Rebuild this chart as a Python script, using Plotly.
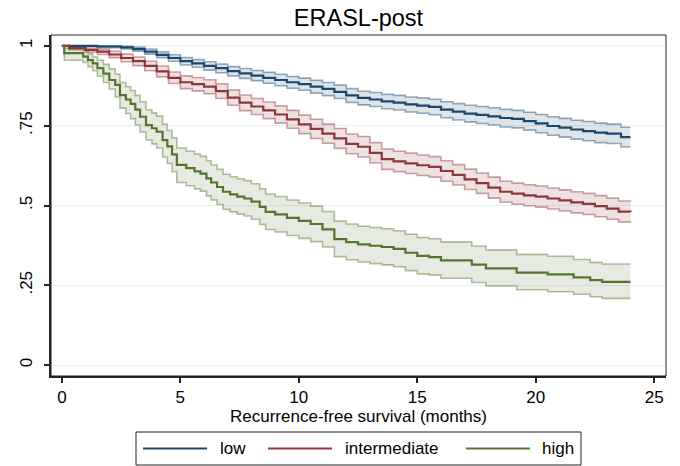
import plotly.graph_objects as go

# ---------------- data ----------------
groups = ["low", "intermediate", "high"]

low_t = [0, 1.5, 2.5, 3.0, 3.5, 4.0, 4.5, 5.0, 5.5, 6.0, 6.5, 7.0, 7.5, 8.0, 8.5, 9.0, 9.5, 10.0,
         10.5, 11.0, 11.5, 12.0, 12.5, 13.0, 13.5, 14.0, 14.5, 15.0, 15.5, 16.0, 16.5, 17.0, 17.5,
         18.0, 18.5, 19.0, 19.5, 20.0, 20.5, 21.0, 21.5, 22.0, 22.5, 23.0, 23.6, 24.0]
low_s = [1.0, 0.998, 0.995, 0.990, 0.982, 0.972, 0.962, 0.952, 0.945, 0.937, 0.930, 0.921, 0.914,
         0.907, 0.900, 0.893, 0.886, 0.880, 0.872, 0.865, 0.856, 0.845, 0.837, 0.832, 0.826, 0.822,
         0.817, 0.813, 0.809, 0.800, 0.794, 0.788, 0.784, 0.779, 0.774, 0.771, 0.764, 0.757, 0.749,
         0.744, 0.738, 0.733, 0.728, 0.725, 0.714, 0.714]
low_hi = [1.0, 1.0, 0.999, 0.996, 0.990, 0.981, 0.972, 0.963, 0.957, 0.950, 0.943, 0.935, 0.929,
          0.923, 0.917, 0.911, 0.904, 0.899, 0.892, 0.885, 0.877, 0.866, 0.858, 0.854, 0.848, 0.845,
          0.840, 0.837, 0.833, 0.825, 0.819, 0.814, 0.810, 0.806, 0.801, 0.798, 0.792, 0.785, 0.778,
          0.773, 0.767, 0.763, 0.758, 0.755, 0.745, 0.745]
low_lo = [1.0, 0.994, 0.990, 0.983, 0.974, 0.963, 0.952, 0.940, 0.933, 0.924, 0.916, 0.906, 0.898,
          0.891, 0.883, 0.875, 0.867, 0.861, 0.852, 0.844, 0.835, 0.823, 0.815, 0.810, 0.803, 0.799,
          0.793, 0.789, 0.784, 0.775, 0.768, 0.762, 0.757, 0.752, 0.746, 0.743, 0.736, 0.728, 0.720,
          0.714, 0.708, 0.703, 0.697, 0.694, 0.683, 0.683]

int_t = [0, 0.3, 1.0, 1.5, 2.0, 2.5, 3.0, 3.5, 4.0, 4.5, 5.0, 5.5, 6.0, 6.5, 7.0, 7.5, 8.0, 8.5, 9.0,
         9.5, 10.0, 10.5, 11.0, 11.5, 12.0, 12.5, 13.0, 13.5, 14.0, 14.5, 15.0, 15.5, 16.0, 16.5,
         17.0, 17.5, 18.0, 18.5, 19.0, 19.5, 20.0, 20.5, 21.0, 21.5, 22.0, 22.5, 23.0, 23.5, 24.0]
int_s = [1.0, 0.993, 0.987, 0.982, 0.973, 0.962, 0.952, 0.937, 0.920, 0.900, 0.886, 0.880, 0.872,
         0.858, 0.838, 0.822, 0.810, 0.798, 0.785, 0.770, 0.754, 0.740, 0.725, 0.710, 0.693, 0.684,
         0.665, 0.645, 0.638, 0.632, 0.626, 0.621, 0.608, 0.596, 0.582, 0.570, 0.556, 0.543, 0.537,
         0.532, 0.528, 0.522, 0.516, 0.510, 0.505, 0.498, 0.490, 0.481, 0.480]
int_hi = [1.0, 0.998, 0.993, 0.990, 0.983, 0.974, 0.965, 0.952, 0.937, 0.918, 0.906, 0.901, 0.894,
          0.881, 0.862, 0.846, 0.835, 0.824, 0.812, 0.798, 0.783, 0.770, 0.755, 0.741, 0.724, 0.716,
          0.697, 0.677, 0.670, 0.664, 0.658, 0.653, 0.640, 0.628, 0.614, 0.602, 0.589, 0.576, 0.570,
          0.565, 0.561, 0.555, 0.549, 0.543, 0.538, 0.531, 0.523, 0.514, 0.513]
int_lo = [1.0, 0.987, 0.980, 0.973, 0.963, 0.950, 0.938, 0.922, 0.903, 0.882, 0.866, 0.859, 0.850,
          0.835, 0.814, 0.797, 0.785, 0.772, 0.758, 0.742, 0.725, 0.710, 0.695, 0.679, 0.662, 0.652,
          0.633, 0.613, 0.606, 0.600, 0.594, 0.589, 0.576, 0.564, 0.550, 0.538, 0.523, 0.510, 0.504,
          0.499, 0.495, 0.489, 0.483, 0.477, 0.472, 0.465, 0.457, 0.448, 0.447]

high_t = [0, 0.1, 0.9, 1.1, 1.3, 1.5, 1.75, 2.0, 2.25, 2.45, 2.7, 2.9, 3.1, 3.3, 3.55, 3.8, 4.0,
          4.25, 4.45, 4.65, 4.85, 5.25, 5.6, 5.85, 6.1, 6.3, 6.55, 6.8, 7.1, 7.4, 7.7, 8.0, 8.35,
          8.6, 9.0, 9.5, 10.0, 10.5, 11.0, 11.5, 12.0, 12.5, 13.0, 13.5, 14.0, 14.5, 15.0,
          15.5, 16.0, 17.3, 17.9, 19.2, 20.5, 21.6, 22.3, 22.8, 24.0]
high_s = [1.0, 0.977, 0.966, 0.955, 0.945, 0.930, 0.913, 0.893, 0.878, 0.846, 0.832, 0.818, 0.800,
          0.778, 0.752, 0.742, 0.731, 0.705, 0.685, 0.660, 0.627, 0.617, 0.607, 0.600, 0.585, 0.572,
          0.558, 0.543, 0.535, 0.528, 0.522, 0.512, 0.496, 0.480, 0.472, 0.461, 0.452, 0.442, 0.425,
          0.395, 0.385, 0.378, 0.374, 0.370, 0.364, 0.352, 0.342, 0.338, 0.328, 0.315, 0.303, 0.290,
          0.284, 0.275, 0.266, 0.261, 0.261]
high_hi = [1.0, 0.992, 0.985, 0.975, 0.965, 0.955, 0.942, 0.928, 0.912, 0.885, 0.872, 0.860, 0.845,
           0.825, 0.800, 0.790, 0.780, 0.755, 0.735, 0.712, 0.680, 0.670, 0.661, 0.654, 0.640, 0.627,
           0.613, 0.598, 0.590, 0.584, 0.578, 0.568, 0.552, 0.536, 0.528, 0.517, 0.508, 0.498, 0.481,
           0.451, 0.442, 0.435, 0.431, 0.427, 0.421, 0.410, 0.400, 0.396, 0.386, 0.373, 0.361, 0.347,
           0.341, 0.331, 0.322, 0.317, 0.317]
high_lo = [1.0, 0.955, 0.948, 0.935, 0.922, 0.905, 0.885, 0.865, 0.840, 0.805, 0.788, 0.772, 0.752,
           0.730, 0.705, 0.693, 0.680, 0.652, 0.632, 0.606, 0.572, 0.562, 0.552, 0.545, 0.530, 0.517,
           0.503, 0.488, 0.480, 0.473, 0.467, 0.457, 0.441, 0.425, 0.417, 0.406, 0.397, 0.387, 0.370,
           0.340, 0.330, 0.323, 0.318, 0.314, 0.308, 0.296, 0.286, 0.282, 0.272, 0.259, 0.248, 0.236,
           0.230, 0.222, 0.214, 0.209, 0.209]

x_ticks = [0, 5, 10, 15, 20, 25]
y_ticks = [0, 0.25, 0.5, 0.75, 1]
y_tick_text = ["0", ".25", ".5", ".75", "1"]

title_text = "ERASL-post"
x_title = "Recurrence-free survival (months)"

# ---------------- styling ----------------
line_col = {"low": "#1a476f", "intermediate": "#90353b", "high": "#55752f"}
edge_col = {"low": "rgba(26,71,111,0.45)", "intermediate": "rgba(144,53,59,0.45)",
            "high": "rgba(85,117,47,0.45)"}
fill_col = {"low": "rgba(26,71,111,0.15)", "intermediate": "rgba(144,53,59,0.15)",
            "high": "rgba(85,117,47,0.15)"}

series = {
    "low": (low_t, low_s, low_lo, low_hi),
    "intermediate": (int_t, int_s, int_lo, int_hi),
    "high": (high_t, high_s, high_lo, high_hi),
}

FONT = "Liberation Sans, Arial, Helvetica, sans-serif"
FS = 17
fig = go.Figure()

# confidence bands
for g in groups:
    t, s, lo, hi = series[g]
    fig.add_trace(go.Scatter(x=t, y=lo, mode="lines", line=dict(shape="hv", color=edge_col[g], width=1.6),
                             showlegend=False, hoverinfo="skip"))
    fig.add_trace(go.Scatter(x=t, y=hi, mode="lines", line=dict(shape="hv", color=edge_col[g], width=1.6),
                             fill="tonexty", fillcolor=fill_col[g], showlegend=False, hoverinfo="skip"))

# survival curves
for g in groups:
    t, s, lo, hi = series[g]
    fig.add_trace(go.Scatter(x=t, y=s, mode="lines", name=g,
                             line=dict(shape="hv", color=line_col[g], width=2.2), showlegend=False))

# plot area in pixels: x 51..666, y 35..376
W, H = 680, 466
L, R, T, B = 51, 666, 35, 376
def px(x):
    return (x - L) / (R - L)
def py(y):
    return (B - y) / (B - T)

shapes = [
    dict(type="rect", xref="paper", yref="paper", x0=0, x1=1, y0=0, y1=1,
         line=dict(color="#222", width=1)),
    # legend box
    dict(type="rect", xref="paper", yref="paper", x0=px(136), x1=px(581), y0=py(432), y1=py(465),
         line=dict(color="#222", width=1), fillcolor="white"),
]
leg_items = [("low", 143, 207, 218), ("intermediate", 268, 332, 343), ("high", 466, 530, 540)]
annotations = []
for g, x0, x1, xt in leg_items:
    shapes.append(dict(type="line", xref="paper", yref="paper", x0=px(x0), x1=px(x1),
                       y0=py(448.5), y1=py(448.5), line=dict(color=line_col[g], width=2.2)))
    annotations.append(dict(text=g, xref="paper", yref="paper", x=px(xt), y=py(448.5),
                            xanchor="left", yanchor="middle", showarrow=False,
                            font=dict(family=FONT, size=FS, color="black")))

fig.update_layout(
    width=W, height=H,
    margin=dict(l=L, r=W - R, t=T, b=H - B, autoexpand=False),
    paper_bgcolor="white", plot_bgcolor="white",
    font=dict(family=FONT, size=FS, color="black"),
    title=dict(text=title_text, x=358.5 / W, xanchor="center", y=1 - 18 / H, yanchor="middle",
               font=dict(family=FONT, size=23.5, color="black")),
    showlegend=False,
    shapes=shapes,
    annotations=annotations,
    xaxis=dict(range=[-0.46, 25.5], tickvals=x_ticks, ticks="outside", ticklen=5, tickwidth=1.5,
               tickcolor="#222", showline=True, linecolor="#222", linewidth=2, showgrid=False,
               zeroline=False, tickfont=dict(size=FS), automargin=False,
               title=dict(text=x_title, standoff=0, font=dict(size=FS))),
    yaxis=dict(range=[-0.034, 1.034], tickvals=y_ticks, ticktext=y_tick_text, ticks="outside",
               ticklen=5, tickwidth=1.5, tickcolor="#222", showline=True, linecolor="#222",
               linewidth=2, showgrid=True, gridcolor="rgb(232,240,242)", gridwidth=1,
               zeroline=False, tickangle=-90, tickfont=dict(size=FS), automargin=False,
               ticklabelstandoff=5),
)

fig.write_html("out.html", config={"displayModeBar": False},
               post_script="document.body.style.margin='0';")
